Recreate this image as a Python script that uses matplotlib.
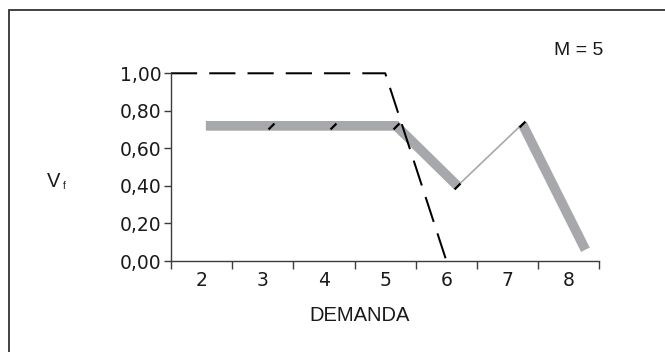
import matplotlib
matplotlib.use("Agg")
import matplotlib.pyplot as plt
from matplotlib.patches import Rectangle
from matplotlib.ticker import FixedLocator, FuncFormatter

plt.rcParams["font.family"] = ["Liberation Sans", "DejaVu Sans"]

# data
demand = [2, 3, 4, 5, 6, 7, 8]
dashed_x = [1.5, 5.0, 6.0]
dashed_y = [1.0, 1.0, 0.0]
gray_x = [2.07, 3.14, 4.14, 5.18, 6.18, 7.24, 8.27]
gray_y = [0.72, 0.72, 0.72, 0.72, 0.40, 0.73, 0.06]
y_ticks = [0.0, 0.2, 0.4, 0.6, 0.8, 1.0]

gray = "#a7a8ab"
axis_col = "#3c3c3c"
txt_col = "#1a1a1a"

fig = plt.figure(figsize=(6.65, 3.52), dpi=100)
ax = fig.add_axes([0.2571, 0.2585, 0.9015 - 0.2571, 0.7918 - 0.2585])

# gray curve: thick, thin between 6 and 7, thick again
ax.plot(gray_x[:5], gray_y[:5], color=gray, lw=7.0,
        solid_capstyle="butt", solid_joinstyle="miter", clip_on=False)
ax.plot(gray_x[4:6], gray_y[4:6], color=gray, lw=1.2, clip_on=False)
ax.plot(gray_x[5:], gray_y[5:], color=gray, lw=7.0,
        solid_capstyle="butt", clip_on=False)
ax.plot(gray_x[1:6], gray_y[1:6], ls="none", marker=(2, 0, -45), ms=6,
        mec="black", mew=1.6, clip_on=False)

# dashed curve
ax.plot(dashed_x, dashed_y, color="black", lw=1.45,
        linestyle=(0, (13, 6)), clip_on=False)

ax.set_xlim(1.5, 8.5)
ax.set_ylim(0, 1.0)

ax.xaxis.set_major_locator(FixedLocator(demand))
ax.xaxis.set_minor_locator(FixedLocator([d + 0.5 for d in [1] + demand]))
ax.set_xticklabels([str(d) for d in demand])
ax.tick_params(axis="x", which="major", length=0, pad=7)
ax.tick_params(axis="x", which="minor", length=6, width=1.0, color=axis_col)

ax.yaxis.set_major_locator(FixedLocator(y_ticks))
ax.yaxis.set_major_formatter(FuncFormatter(lambda v, p: f"{v:.2f}".replace(".", ",")))
ax.tick_params(axis="y", length=5, width=1.0, color=axis_col, pad=2)

for lab in ax.get_xticklabels() + ax.get_yticklabels():
    lab.set_family("DejaVu Sans")
    lab.set_fontsize(13.5)
    lab.set_color(txt_col)

for s in ["top", "right"]:
    ax.spines[s].set_visible(False)
for s in ["left", "bottom"]:
    ax.spines[s].set_color(axis_col)
    ax.spines[s].set_linewidth(1.0)

fig.text(360 / 665, 1 - 315.7 / 352, "DEMANDA", ha="center", va="center",
         fontsize=14.5, color=txt_col)
fig.text(603 / 665, 1 - 50.5 / 352, "M = 5", ha="right", va="center",
         fontsize=14, color=txt_col)
fig.text(46.7 / 665, 1 - 186.7 / 352, "V", ha="left", va="baseline",
         fontsize=14.5, color=txt_col)
fig.text(62.7 / 665, 1 - 189.3 / 352, "f", ha="left", va="baseline",
         fontsize=7, color=txt_col)

# frame around the figure (right and bottom edges fall outside)
fig.patches.append(Rectangle((9 / 665, -0.1), 1.2, 1.1 - 10.5 / 352,
                             transform=fig.transFigure, fill=False,
                             edgecolor="#333333", lw=1.3))

fig.savefig("out.png", dpi=100)
